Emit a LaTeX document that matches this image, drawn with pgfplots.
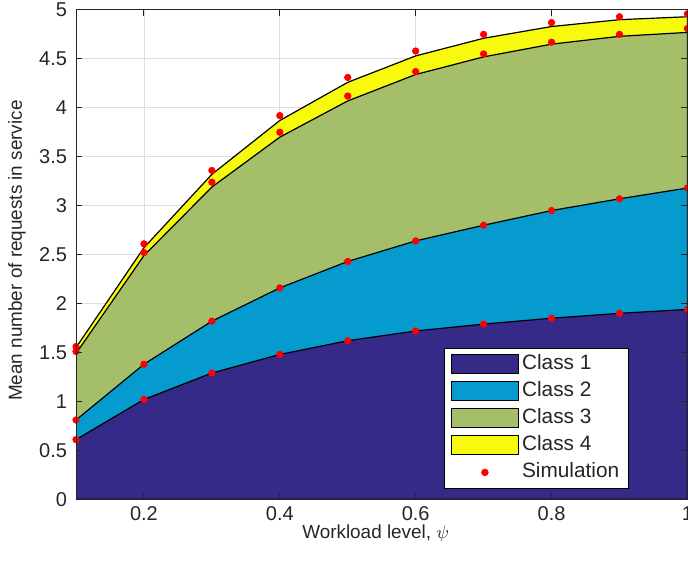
\documentclass[border=0pt]{standalone}
\usepackage{pgfplots}
\usepackage{pgfplotstable}
\pgfplotsset{compat=1.18}
\usepackage{fontspec}
\setmainfont{Liberation Sans}
\definecolor{cA}{RGB}{53,42,135}
\definecolor{cB}{RGB}{6,155,206}
\definecolor{cC}{RGB}{165,190,106}
\definecolor{cD}{RGB}{248,250,13}
\definecolor{axgray}{RGB}{38,38,38}

\pgfplotsset{
  layers/mylayers/.define layer set={
    axis background,axis grid,pre main,main,axis ticks,axis lines,axis tick labels,axis descriptions,axis foreground
  }{
    grid style={/pgfplots/on layer=axis grid},
    tick style={/pgfplots/on layer=axis ticks},
    axis line style={/pgfplots/on layer=axis lines},
    label style={/pgfplots/on layer=axis descriptions},
    legend style={/pgfplots/on layer=axis descriptions},
    title style={/pgfplots/on layer=axis descriptions},
    ticklabel style={/pgfplots/on layer=axis tick labels},
    axis background@ style={/pgfplots/on layer=axis background},
    3d box foreground style={/pgfplots/on layer=axis foreground},
  },
  dotlegend/.style={legend image code/.code={\draw[mark repeat=2,mark phase=2,##1] plot coordinates {(0pt,0pt)(16.75pt,0pt)(33.5pt,0pt)};}},
  boxlegend/.style={legend image code/.code={\draw[fill=#1,draw=black,line width=0.5pt] (0pt,-4.75pt) rectangle (33.5pt,4.75pt);}},
}

% cumulative analytical curves
\pgfplotstableread{
x    c1   c2   c3   c4
0.1  0.61 0.81 1.49 1.55
0.2  1.02 1.38 2.49 2.57
0.3  1.29 1.82 3.19 3.32
0.4  1.48 2.16 3.70 3.87
0.5  1.62 2.43 4.07 4.26
0.6  1.72 2.64 4.34 4.53
0.7  1.79 2.80 4.52 4.71
0.8  1.85 2.95 4.65 4.83
0.9  1.90 3.07 4.73 4.90
1.0  1.94 3.18 4.77 4.93
}\curves

% simulation points (cumulative)
\pgfplotstableread{
x    y
0.1  0.61
0.2  1.02
0.3  1.29
0.4  1.48
0.5  1.62
0.6  1.72
0.7  1.79
0.8  1.85
0.9  1.90
1.0  1.94
0.1  0.81
0.2  1.38
0.3  1.82
0.4  2.16
0.5  2.43
0.6  2.64
0.7  2.80
0.8  2.95
0.9  3.07
1.0  3.18
0.1  1.51
0.2  2.52
0.3  3.24
0.4  3.75
0.5  4.12
0.6  4.37
0.7  4.55
0.8  4.67
0.9  4.75
1.0  4.81
0.1  1.56
0.2  2.61
0.3  3.36
0.4  3.92
0.5  4.31
0.6  4.58
0.7  4.75
0.8  4.87
0.9  4.93
1.0  4.96
}\simdata

\begin{document}
\begin{tikzpicture}
\begin{axis}[
  set layers=mylayers,
  at={(0,0)}, anchor=south west,
  scale only axis, width=305.7pt, height=244.7pt,
  xmin=0.1, xmax=1, ymin=0, ymax=5,
  xtick={0.2,0.4,0.6,0.8,1},
  ytick={0,0.5,1,1.5,2,2.5,3,3.5,4,4.5,5},
  grid=major, grid style={draw=black!13, line width=0.4pt},
  tick align=inside, major tick length=3pt,
  axis line style={draw=axgray, line width=0.5pt},
  tick style={draw=axgray, line width=0.5pt},
  /pgf/number format/assume math mode=true,
  ticklabel style={font=\fontsize{10}{12}\selectfont, text=axgray},
  yticklabel style={xshift=-1pt},
  label style={font=\fontsize{9.45}{11.5}\selectfont, text=axgray},
  xlabel={Workload level, $\psi$},
  ylabel={Mean number of requests in service},
  xlabel style={at={(axis description cs:0.5,0)}, anchor=center, yshift=-17pt, xshift=-3pt},
  ylabel style={at={(axis description cs:0,0.5)}, anchor=center, yshift=29.5pt, xshift=2pt},
  legend style={at={(0.905,0.0204)}, anchor=south east, draw=black, fill=white,
    font=\fontsize{10.4}{12}\selectfont, text=axgray, row sep=2.7pt,
    inner xsep=3.2pt, inner ysep=2.8pt, line width=0.5pt,
    nodes={inner xsep=1.6pt, inner ysep=0.5pt, text height=7.6pt, text depth=2.2pt}},
  legend cell align=left,
]
\addplot[fill=cD, draw=black, line width=0.6pt, forget plot] table[x=x,y=c4]{\curves} \closedcycle;
\addplot[fill=cC, draw=black, line width=0.6pt, forget plot] table[x=x,y=c3]{\curves} \closedcycle;
\addplot[fill=cB, draw=black, line width=0.6pt, forget plot] table[x=x,y=c2]{\curves} \closedcycle;
\addplot[fill=cA, draw=black, line width=0.6pt, forget plot] table[x=x,y=c1]{\curves} \closedcycle;

\addlegendimage{boxlegend=cA}
\addlegendentry{Class 1}
\addlegendimage{boxlegend=cB}
\addlegendentry{Class 2}
\addlegendimage{boxlegend=cC}
\addlegendentry{Class 3}
\addlegendimage{boxlegend=cD}
\addlegendentry{Class 4}

\addplot[only marks, mark=*, mark size=1.6pt, color=red, fill=red, dotlegend]
  table[x=x,y=y]{\simdata};
\addlegendentry{Simulation}
\end{axis}
\pgfresetboundingbox
\path (-38pt,-33.85pt) rectangle (306pt,249.65pt);
\end{tikzpicture}
\end{document}
